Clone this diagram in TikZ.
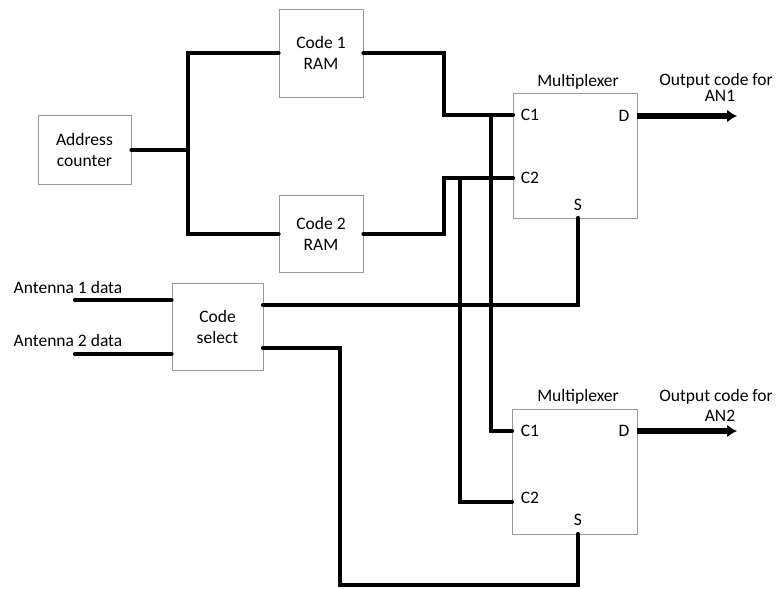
\documentclass[tikz,border=0pt]{standalone}
\usepackage{fontspec}
\setmainfont{Carlito}
\usepackage{tikz}
\usetikzlibrary{positioning,arrows.meta}

\tikzset{
  block/.style={draw=black!40, line width=0.9pt, align=center, inner sep=0pt},
  wire/.style={line width=4.2pt, line cap=round, line join=miter},
  outwire/.style={line width=5.5pt, -{Latex[length=10pt,width=13pt]}},
  pin/.style={inner sep=1pt}
}

\begin{document}
\begin{tikzpicture}[x=1pt, y=-1pt, every node/.style={font=\fontsize{17.5}{21}\selectfont}]
  \useasboundingbox (0,0) rectangle (777,589);

  % ============ BLOCKS ============
  \node[block, minimum width=93pt, minimum height=69pt]  (addr) at (84.5,150) {Address\\counter};
  \node[block, minimum width=84pt, minimum height=88pt]  (ram1) at (321,53)  {Code 1\\RAM};
  \node[block, minimum width=84pt, minimum height=77pt]  (ram2) at (321,234) {Code 2\\RAM};
  \node[block, minimum width=91pt, minimum height=87pt]  (sel)  at (217.5,326.5) {Code\\select};
  \node[block, minimum width=124pt, minimum height=125pt] (mux1) at (575,155.5) {};
  \node[block, minimum width=125pt, minimum height=125pt] (mux2) at (574.5,471.5) {};

  % ============ LABELS ============
  \node (mux1lbl) at (578,82)  {Multiplexer};
  \node (mux2lbl) at (578,397) {Multiplexer};
  \node (out1a) at (716,81)  {Output code for};
  \node (out1b) at (720,96)  {AN1};
  \node (out2a) at (716,397) {Output code for};
  \node (out2b) at (720,416) {AN2};
  \node (ant1) at (68,287) {Antenna 1 data};
  \node (ant2) at (68,340) {Antenna 2 data};

  % pin labels
  \node[pin] (m1c1lbl) at (530,115) {C1};
  \node[pin] (m1c2lbl) at (530,178) {C2};
  \node[pin] (m1dlbl)  at (624,116) {D};
  \node[pin] (m1slbl)  at (578,205) {S};
  \node[pin] (m2c1lbl) at (530,431) {C1};
  \node[pin] (m2c2lbl) at (530,498) {C2};
  \node[pin] (m2dlbl)  at (624,431) {D};
  \node[pin] (m2slbl)  at (578,520) {S};

  % ============ PORTS AND BENDS ============
  \coordinate (jA)   at (188,150);
  \coordinate (k1)   at (444,115);
  \coordinate (k2)   at (444,178);
  \coordinate (j1)   at (491,115);
  \coordinate (j2)   at (460,178);
  \coordinate (m1c1) at (513,115);
  \coordinate (m1c2) at (513,178);
  \coordinate (m1d)  at (637,116);
  \coordinate (m1s)  at (578,218);
  \coordinate (m2c1) at (512,431);
  \coordinate (m2c2) at (512,502);
  \coordinate (m2d)  at (637,431);
  \coordinate (m2s)  at (578,534);
  \coordinate (sel1) at (263,305);
  \coordinate (sel2) at (263,348);
  \coordinate (b1)   at (340,585);
  \coordinate (in1)  at (75,300);
  \coordinate (in2)  at (75,354);
  \coordinate (o1)   at (737,116);
  \coordinate (o2)   at (737,431);

  % ============ WIRES ============
  \draw[wire] (addr.east) -- (jA);
  \draw[wire] (ram1.west) -| (jA) |- (ram2.west);
  \draw[wire] (ram1.east) -| (k1) -- (m1c1);
  \draw[wire] (ram2.east) -| (k2) -- (m1c2);
  \draw[wire] (j1) |- (m2c1);
  \draw[wire] (j2) |- (m2c2);
  \draw[wire] (in1) -- (in1 -| sel.west);
  \draw[wire] (in2) -- (in2 -| sel.west);
  \draw[wire] (sel1) -| (m1s);
  \draw[wire] (sel2) -| (b1) -| (m2s);
  \draw[outwire] (m1d) -- (o1);
  \draw[outwire] (m2d) -- (o2);
\end{tikzpicture}
\end{document}
